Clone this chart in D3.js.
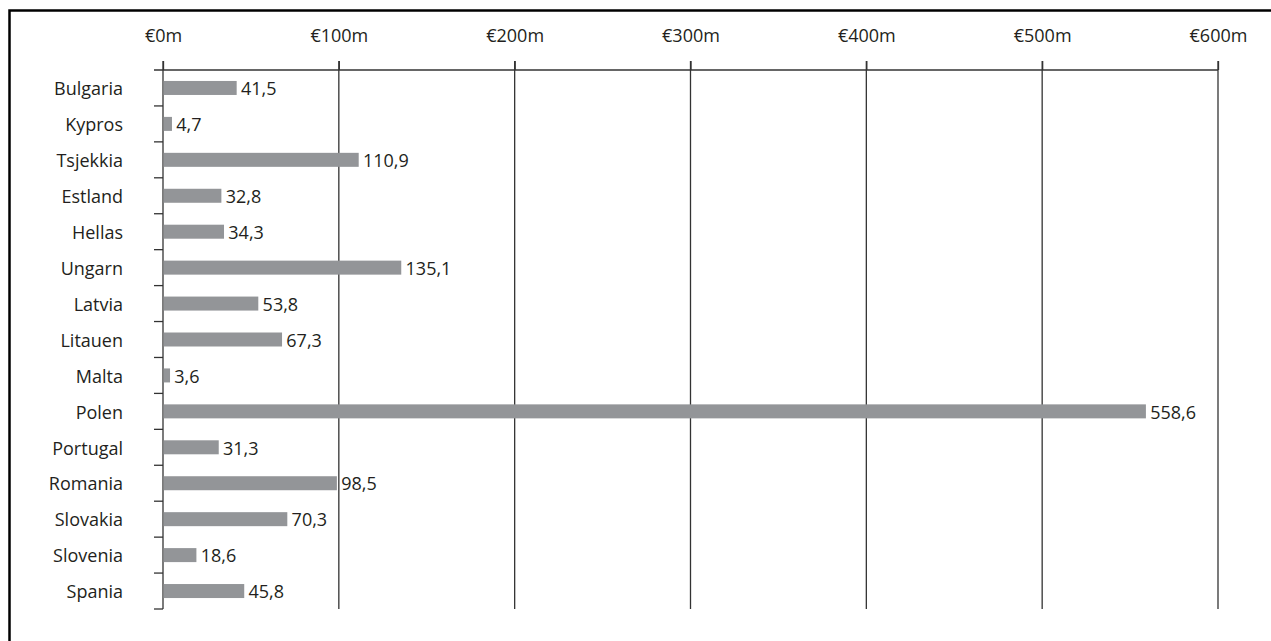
<!DOCTYPE html>
<html>
<head>
<meta charset="utf-8">
<script src="https://cdn.jsdelivr.net/npm/d3@7"></script>
<style>
  body { margin: 0; background: #fff; }
  text { font-family: "Open Sans", "Noto Sans", sans-serif; fill: #231f20; }
</style>
</head>
<body>
<div class="graph"></div>
<script>
// data
var countries = ["Bulgaria", "Kypros", "Tsjekkia", "Estland", "Hellas", "Ungarn", "Latvia",
  "Litauen", "Malta", "Polen", "Portugal", "Romania", "Slovakia", "Slovenia", "Spania"];
var values = [41.5, 4.7, 110.9, 32.8, 34.3, 135.1, 53.8, 67.3, 3.6, 558.6, 31.3, 98.5, 70.3, 18.6, 45.8];
var xTicks = [0, 100, 200, 300, 400, 500, 600];

var data = countries.map(function(c, i) { return {name: c, value: values[i]}; });

var W = 1271, H = 641;
var margin = {top: 70, left: 163, right: 53, bottom: 32};
var fontSize = 18;

var svg = d3.select(".graph").append("svg")
    .attr("width", W)
    .attr("height", H);

// frame (only top and left edges are visible)
svg.append("path")
    .attr("d", "M9.5," + H + "V10.5H" + W)
    .attr("fill", "none")
    .attr("stroke", "#000")
    .attr("stroke-width", 2.5);

var x = d3.scaleLinear().domain([0, 600]).range([margin.left, W - margin.right]);
var y = d3.scaleBand().domain(countries).range([margin.top, H - margin.bottom]).padding(0);

var lineColor = "#333";

// vertical gridlines
svg.append("g").selectAll("line")
    .data(xTicks.slice(1))
    .enter().append("line")
    .attr("x1", function(d) { return x(d); })
    .attr("x2", function(d) { return x(d); })
    .attr("y1", margin.top - 9)
    .attr("y2", y.range()[1])
    .attr("stroke", lineColor)
    .attr("stroke-width", 1.3);

// top axis
var xAxis = svg.append("g")
    .attr("transform", "translate(0," + margin.top + ")")
    .call(d3.axisTop(x).tickValues(xTicks)
      .tickFormat(function(d) { return "€" + d + "m"; })
      .tickSize(9).tickSizeOuter(0).tickPadding(19));
xAxis.select(".domain").remove();
xAxis.selectAll(".tick line").attr("stroke", lineColor).attr("stroke-width", 1.3);
xAxis.selectAll("text").attr("font-size", fontSize).attr("fill", "#231f20")
    .style("font-family", "'Open Sans', 'Noto Sans', sans-serif");

svg.append("line")
    .attr("x1", margin.left - 9)
    .attr("x2", x(600))
    .attr("y1", margin.top)
    .attr("y2", margin.top)
    .attr("stroke", lineColor)
    .attr("stroke-width", 1.3);

// y axis line with ticks at band boundaries
var bounds = countries.map(function(c) { return y(c); }).concat([y.range()[1]]);
svg.append("line")
    .attr("x1", margin.left)
    .attr("x2", margin.left)
    .attr("y1", margin.top - 9)
    .attr("y2", y.range()[1])
    .attr("stroke", lineColor)
    .attr("stroke-width", 1.3);
svg.append("g").selectAll("line")
    .data(bounds.slice(1))
    .enter().append("line")
    .attr("x1", margin.left - 9)
    .attr("x2", margin.left)
    .attr("y1", function(d) { return d; })
    .attr("y2", function(d) { return d; })
    .attr("stroke", lineColor)
    .attr("stroke-width", 1.3);

// category labels
svg.append("g").selectAll("text")
    .data(data)
    .enter().append("text")
    .attr("x", margin.left - 40)
    .attr("y", function(d) { return y(d.name) + y.bandwidth() / 2; })
    .attr("dy", "0.4em")
    .attr("text-anchor", "end")
    .attr("font-size", fontSize)
    .text(function(d) { return d.name; });

// bars
var barH = 14;
svg.append("g").selectAll("rect")
    .data(data)
    .enter().append("rect")
    .attr("x", x(0) + 0.7)
    .attr("y", function(d) { return y(d.name) + y.bandwidth() / 2 - barH / 2; })
    .attr("width", function(d) { return x(d.value) - x(0); })
    .attr("height", barH)
    .attr("fill", "#939598");

// value labels
svg.append("g").selectAll("text")
    .data(data)
    .enter().append("text")
    .attr("x", function(d) { return x(d.value) + 5; })
    .attr("y", function(d) { return y(d.name) + y.bandwidth() / 2; })
    .attr("dy", "0.4em")
    .attr("font-size", fontSize)
    .text(function(d) { return d3.format(".1f")(d.value).replace(".", ","); });
</script>
</body>
</html>
